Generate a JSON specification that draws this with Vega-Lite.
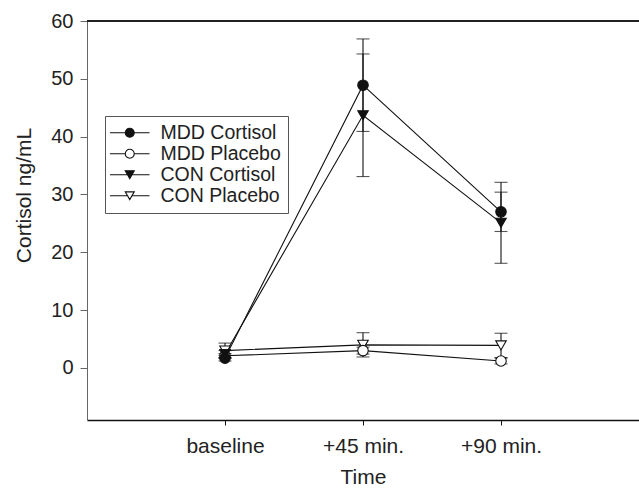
{
  "$schema": "https://vega.github.io/schema/vega-lite/v6.json",
  "width": 552,
  "height": 399,
  "autosize": {"type": "none"},
  "padding": {"left": 87, "top": 21, "right": 0, "bottom": 68},
  "config": {
    "view": {"stroke": null},
    "font": "Liberation Sans",
    "axis": {"grid": false, "labelFont": "Liberation Sans", "titleFont": "Liberation Sans", "labelColor": "#222", "titleColor": "#222", "titleFontWeight": "normal"},
    "legend": {"labelFont": "Liberation Sans"}
  },
  "data": {
    "values": [
      {"group": "MDD Cortisol", "time": "baseline", "mean": 1.7, "lo": 1.2, "hi": 2.2},
      {"group": "MDD Cortisol", "time": "+45 min.", "mean": 48.9, "lo": 40.9, "hi": 56.9},
      {"group": "MDD Cortisol", "time": "+90 min.", "mean": 27.0, "lo": 23.6, "hi": 30.4},
      {"group": "MDD Placebo", "time": "baseline", "mean": 2.1, "lo": 1.7, "hi": 2.5},
      {"group": "MDD Placebo", "time": "+45 min.", "mean": 3.0, "lo": 2.4, "hi": 3.6},
      {"group": "MDD Placebo", "time": "+90 min.", "mean": 1.2, "lo": 0.7, "hi": 1.7},
      {"group": "CON Cortisol", "time": "baseline", "mean": 2.4, "lo": 1.8, "hi": 3.0},
      {"group": "CON Cortisol", "time": "+45 min.", "mean": 43.7, "lo": 33.1, "hi": 54.3},
      {"group": "CON Cortisol", "time": "+90 min.", "mean": 25.1, "lo": 18.1, "hi": 32.1},
      {"group": "CON Placebo", "time": "baseline", "mean": 3.0, "lo": 1.7, "hi": 4.3},
      {"group": "CON Placebo", "time": "+45 min.", "mean": 4.0, "lo": 1.9, "hi": 6.1},
      {"group": "CON Placebo", "time": "+90 min.", "mean": 3.9, "lo": 1.8, "hi": 6.0}
    ]
  },
  "encoding": {
    "x": {
      "field": "time",
      "type": "ordinal",
      "sort": ["baseline", "+45 min.", "+90 min."],
      "scale": {"type": "point", "padding": 1},
      "title": "Time",
      "axis": {"labelAngle": 0, "labelFontSize": 21, "titleFontSize": 21, "domainColor": "#111", "tickColor": "#111", "tickSize": 5, "labelPadding": 10, "titlePadding": 10, "domainWidth": 1.3}
    }
  },
  "layer": [
    {
      "mark": {"type": "rule", "color": "#222", "strokeWidth": 1.5},
      "encoding": {"x": null, "y": {"datum": 60, "type": "quantitative", "scale": {"domain": [-9, 60], "nice": false}}}
    },
    {
      "mark": {"type": "line", "color": "#111", "strokeWidth": 1.1},
      "encoding": {
        "y": {"field": "mean", "type": "quantitative", "scale": {"domain": [-9, 60], "nice": false}, "title": "Cortisol ng/mL",
          "axis": {"values": [0, 10, 20, 30, 40, 50, 60], "labelFontSize": 20, "titleFontSize": 21, "domainColor": "#666", "tickColor": "#666", "tickSize": 7, "labelPadding": 7, "titlePadding": 16, "titleY": 174}},
        "detail": {"field": "group"}
      }
    },
    {
      "mark": {"type": "rule", "color": "#111", "strokeWidth": 1.1},
      "encoding": {"y": {"field": "lo", "type": "quantitative"}, "y2": {"field": "hi"}, "detail": {"field": "group"}}
    },
    {
      "mark": {"type": "tick", "color": "#111", "thickness": 1.1, "size": 13, "orient": "horizontal"},
      "encoding": {"y": {"field": "lo", "type": "quantitative"}, "detail": {"field": "group"}}
    },
    {
      "mark": {"type": "tick", "color": "#111", "thickness": 1.1, "size": 13, "orient": "horizontal"},
      "encoding": {"y": {"field": "hi", "type": "quantitative"}, "detail": {"field": "group"}}
    },
    {
      "transform": [{"filter": "datum.group === 'CON Placebo'"}],
      "mark": {"type": "point", "shape": "triangle-down", "filled": true, "fill": "white", "stroke": "#111", "strokeWidth": 1.1, "size": 110, "opacity": 1},
      "encoding": {"y": {"field": "mean", "type": "quantitative"}}
    },
    {
      "transform": [{"filter": "datum.group === 'MDD Placebo'"}],
      "mark": {"type": "point", "shape": "circle", "filled": true, "fill": "white", "stroke": "#111", "strokeWidth": 1.1, "size": 110, "opacity": 1},
      "encoding": {"y": {"field": "mean", "type": "quantitative"}}
    },
    {
      "transform": [{"filter": "datum.group === 'CON Cortisol'"}],
      "mark": {"type": "point", "shape": "triangle-down", "filled": true, "fill": "#111", "stroke": "#111", "strokeWidth": 1.1, "size": 110, "opacity": 1},
      "encoding": {"y": {"field": "mean", "type": "quantitative"}}
    },
    {
      "transform": [{"filter": "datum.group === 'MDD Cortisol'"}],
      "mark": {"type": "point", "shape": "circle", "filled": true, "fill": "#111", "stroke": "#111", "strokeWidth": 1.1, "size": 110, "opacity": 1},
      "encoding": {"y": {"field": "mean", "type": "quantitative"}}
    },
    {
      "mark": {"type": "point", "filled": true, "opacity": 0, "size": 10},
      "encoding": {
        "y": {"field": "mean", "type": "quantitative"},
        "shape": {
          "field": "group", "type": "nominal",
          "scale": {"domain": ["MDD Cortisol", "MDD Placebo", "CON Cortisol", "CON Placebo"],
            "range": ["M-4.4,0H-1M1,0H4.4M1,0A1,1 0 1,1 -1,0A1,1 0 1,1 1,0Z", "M-4.4,0H-1M1,0H4.4M1,0A1,1 0 1,1 -1,0A1,1 0 1,1 1,0Z", "M-4.4,0H-0.5M0.5,0H4.4M-1,-0.866L1,-0.866L0,0.866Z", "M-4.4,0H-0.5M0.5,0H4.4M-1,-0.866L1,-0.866L0,0.866Z"]},
          "legend": {
            "title": null, "orient": "none", "legendX": 18, "legendY": 95,
            "strokeColor": "#555", "fillColor": "white", "padding": 7,
            "labelFontSize": 19.5, "labelColor": "#222", "symbolSize": 81, "symbolOpacity": 1, "symbolStrokeWidth": 1.1,
            "symbolOffset": 8, "labelOffset": 21, "rowPadding": 0
          }
        },
        "fill": {
          "field": "group", "type": "nominal",
          "scale": {"domain": ["MDD Cortisol", "MDD Placebo", "CON Cortisol", "CON Placebo"], "range": ["#111", "white", "#111", "white"]},
          "legend": {"title": null, "orient": "none", "legendX": 18, "legendY": 95, "symbolOpacity": 1}
        },
        "stroke": {
          "field": "group", "type": "nominal",
          "scale": {"domain": ["MDD Cortisol", "MDD Placebo", "CON Cortisol", "CON Placebo"], "range": ["#111", "#111", "#111", "#111"]},
          "legend": {"title": null, "orient": "none", "legendX": 18, "legendY": 95, "symbolOpacity": 1}
        }
      }
    }
  ]
}
